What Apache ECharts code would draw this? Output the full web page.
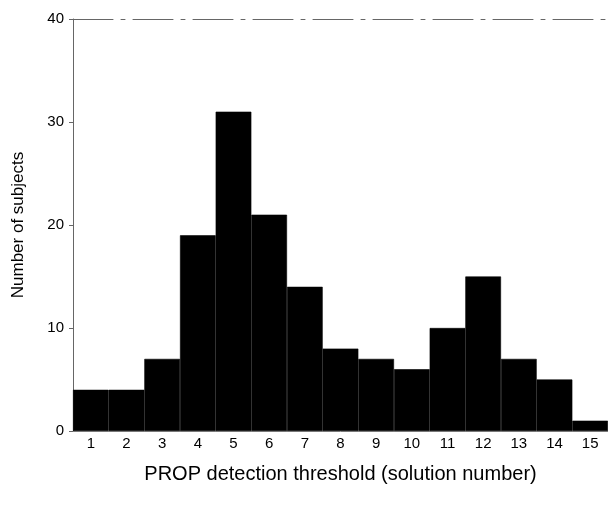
<!DOCTYPE html>
<html><head><meta charset="utf-8">
<script src="https://cdn.jsdelivr.net/npm/echarts@6/dist/echarts.min.js"></script>
<style>html,body{margin:0;padding:0;background:#fff}#c{width:608px;height:505px}</style>
</head><body><div id="c"></div>
<script>
const categories = ['1','2','3','4','5','6','7','8','9','10','11','12','13','14','15'];
const subjects = [4,4,7,19,31,21,14,8,7,6,10,15,7,5,1];
const yTicks = [0,10,20,30,40];

const chart = echarts.init(document.getElementById('c'));
chart.setOption({
  animation:false,
  backgroundColor:'#fff',
  grid:{left:73,right:0,top:19,bottom:74},
  xAxis:[{
    type:'category', data:categories, boundaryGap:true,
    name:'PROP detection threshold (solution number)', nameLocation:'middle', nameGap:33,
    nameTextStyle:{fontFamily:'Liberation Sans',fontSize:20,color:'#000'},
    axisLine:{show:true,lineStyle:{color:'#888',width:1}},
    axisTick:{alignWithLabel:true,length:4,lineStyle:{color:'#888'}},
    axisLabel:{fontFamily:'Liberation Sans',fontSize:15,color:'#000',margin:5}
  },{
    type:'category', data:categories, position:'top',
    axisLine:{show:true,lineStyle:{color:'#666',width:1,type:[40,8,4,8]}},
    axisTick:{show:false}, axisLabel:{show:false}
  }],
  yAxis:{
    type:'value', min:0, max:40, interval:10,
    name:'Number of subjects', nameLocation:'middle', nameGap:46,
    nameTextStyle:{fontFamily:'Liberation Sans',fontSize:17,color:'#000'},
    axisLine:{show:true,lineStyle:{color:'#666',width:1}},
    axisTick:{show:true,length:4,lineStyle:{color:'#666'}},
    axisLabel:{fontFamily:'Liberation Sans',fontSize:15,color:'#000',margin:9},
    splitLine:{show:false}
  },
  series:[{
    type:'bar', data:subjects, barWidth:'100%', barCategoryGap:'0%',
    itemStyle:{color:'#000',borderColor:'#000',borderWidth:0.6}
  }]
});
</script></body></html>
